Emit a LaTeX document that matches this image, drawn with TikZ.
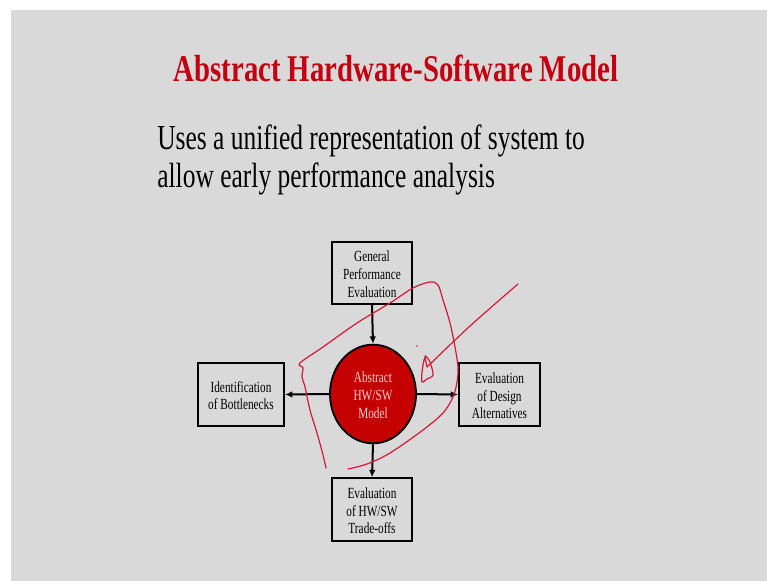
\documentclass[tikz,border=0pt]{standalone}
\usepackage{fontspec}
\setmainfont{Liberation Serif}
\usepackage{graphicx}
\usetikzlibrary{arrows.meta,shapes.geometric}
\definecolor{slidebg}{RGB}{217,217,217}
\definecolor{titlered}{RGB}{196,0,16}
\definecolor{modelred}{RGB}{196,0,0}
\definecolor{modeltext}{RGB}{246,205,205}
\definecolor{penred}{RGB}{214,24,56}
\newcommand\sqtext[2]{\scalebox{#1}[1]{\begin{tabular}{@{}c@{}}#2\end{tabular}}}
\begin{document}
\begin{tikzpicture}[x=0.75pt,y=-0.75pt,
  boxnode/.style={draw=black,line width=1.4pt,fill=slidebg,inner sep=0pt},
  boxtext/.style={inner sep=0pt,yshift=-2.3pt,font=\fontsize{11.6}{13.2}\selectfont},
  arr/.style={line width=1.5pt,-{Latex[length=5.5pt,width=5pt]}},
  pen/.style={penred,line width=0.9pt,line cap=round,line join=round}]
\useasboundingbox (0,0) rectangle (767,581);
\fill[white] (0,0) rectangle (767,581);
\fill[slidebg] (11,10) rectangle (767,581);
% title and text
\node[anchor=base,inner sep=0pt,text=titlered,font=\fontsize{28.3}{34}\selectfont\bfseries] (title) at (396,82)
  {\scalebox{0.762}[1]{Abstract Hardware-Software Model}};
\node[anchor=base west,inner sep=0pt,font=\fontsize{26.3}{32}\selectfont] (line1) at (157,150)
  {\scalebox{0.727}[1]{Uses a unified representation of system to}};
\node[anchor=base west,inner sep=0pt,font=\fontsize{26.3}{32}\selectfont] (line2) at (157,188)
  {\scalebox{0.727}[1]{allow early performance analysis}};
% boxes
\node[boxnode,minimum width=60pt,minimum height=46.5pt] (gpe) at (372,273) {};
\node[boxtext] (gpe-t) at (gpe.center) {\sqtext{0.73}{General\\Performance\\Evaluation}};
\node[boxnode,minimum width=64.5pt,minimum height=47pt] (bott) at (241,394.5) {};
\node[boxtext] (bott-t) at (bott.center) {\sqtext{0.73}{Identification\\of Bottlenecks}};
\node[boxnode,minimum width=60.75pt,minimum height=47pt] (design) at (499.5,394.5) {};
\node[boxtext] (design-t) at (design.center) {\sqtext{0.73}{Evaluation\\of Design\\Alternatives}};
\node[boxnode,minimum width=60pt,minimum height=47pt] (trade) at (372,509.5) {};
\node[boxtext] (trade-t) at (trade.center) {\sqtext{0.73}{Evaluation\\of HW/SW\\Trade-offs}};
% model
\node[ellipse,draw=black,line width=1.4pt,fill=modelred,inner sep=0pt,
  minimum width=64.5pt,minimum height=74pt] (model) at (373,394) {};
\node[boxtext,text=modeltext,font=\fontsize{11.6}{13.5}\selectfont] (model-t) at (model.center)
  {\sqtext{0.73}{Abstract\\HW/SW\\Model}};
% arrows
\draw[arr] (gpe.south) -- (model.north);
\draw[arr] (model.west) -- (bott.east);
\draw[arr] (model.east) -- (design.west);
\draw[arr] (model.south) -- (trade.north);
% handwritten annotation
\draw[pen] plot[smooth,tension=0.55] coordinates {(326,468) (323,455) (317,433) (310,410) (305,387) (302,377) (303,368) (300,363) (323,347) (357,323) (390,303) (413,288) (430,282) (438,285) (443,300) (450,323) (455,347) (458,367) (457,382) (453,397) (443,413) (423,430) (390,453) (367,464) (348,469)};
\draw[pen] plot[smooth,tension=0.5] coordinates {(518,284) (470,326) (427,367)};
\draw[pen] plot[smooth,tension=0.5] coordinates {(427,367) (425,356) (430,362) (433,375) (427,379) (422,382) (422,372) (424,360) (426,356)};
\fill[penred] (417,346) circle (0.9);
\end{tikzpicture}
\end{document}
